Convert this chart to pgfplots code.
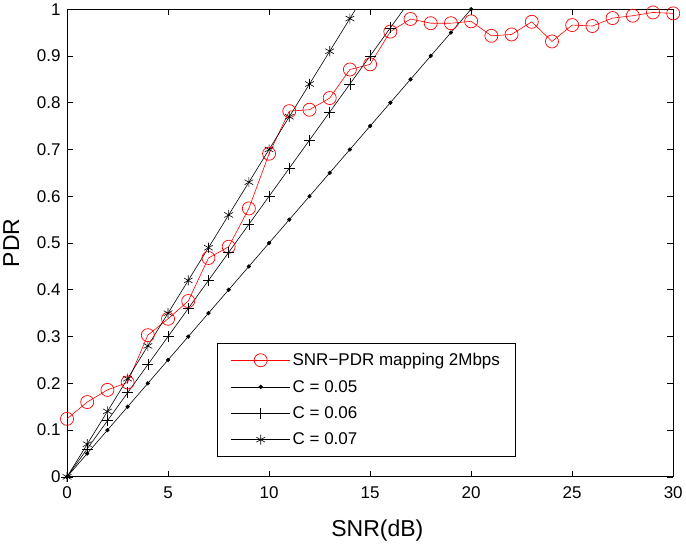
\documentclass[border=0pt]{standalone}
\usepackage{fontspec}
\setmainfont{Liberation Sans}
\usepackage{pgfplots}
\pgfplotsset{compat=1.18}

\begin{document}
\begin{tikzpicture}
\begin{axis}[
    scale only axis,
    width=604bp, height=466bp,
    xmin=0, xmax=30, ymin=0, ymax=1,
    xtick={0,5,...,30},
    ytick={0,0.1,...,1},
    tick align=inside,
    major tick length=6bp,
    tick style={black, line width=0.6bp},
    axis line style={line width=0.8bp},
    /pgf/number format/assume math mode=true,
    ticklabel style={font=\fontsize{17}{20}\selectfont},
    xticklabel style={yshift=-6bp},
    yticklabel style={xshift=-3bp},
    xlabel={SNR(dB)}, ylabel={PDR},
    label style={font=\fontsize{23}{26}\selectfont},
    xlabel style={at={(axis description cs:0.512,-0.114)}, anchor=center},
    ylabel style={at={(axis description cs:-0.092,0.5)}, anchor=center},
    legend cell align=left,
    legend style={at={(0.248,0.043)}, anchor=south west,
        font=\fontsize{17}{20}\selectfont, draw=black, line width=0.8bp,
        inner xsep=13bp, inner ysep=8bp, row sep=9bp},
    legend image code/.code={%
        \draw[#1, mark=none] (0bp,0bp) -- (59bp,0bp);
        \draw[#1, only marks] plot coordinates {(29.5bp,0bp)};},
    clip=true,
]
\addplot[red, line width=0.6bp, mark=o, mark size=6.5bp,
    mark options={line width=0.7bp}] coordinates {
 (0,0.124) (1,0.160) (2,0.186) (3,0.202) (4,0.303) (5,0.338) (6,0.376)
 (7,0.468) (8,0.492) (9,0.574) (10,0.691) (11,0.782) (12,0.785) (13,0.810)
 (14,0.871) (15,0.882) (16,0.952) (17,0.979) (18,0.970) (19,0.970)
 (20,0.974) (21,0.943) (22,0.946) (23,0.973) (24,0.931) (25,0.966)
 (26,0.964) (27,0.981) (28,0.986) (29,0.993) (30,0.991)};
\addlegendentry{SNR\textminus PDR mapping 2Mbps}

\addplot[black, line width=0.6bp, mark=*, mark size=1.8bp,
    mark indices={1,...,21}] coordinates {
 (0,0) (1,0.05) (2,0.10) (3,0.15) (4,0.20) (5,0.25) (6,0.30) (7,0.35)
 (8,0.40) (9,0.45) (10,0.50) (11,0.55) (12,0.60) (13,0.65) (14,0.70)
 (15,0.75) (16,0.80) (17,0.85) (18,0.90) (19,0.95) (20,1.00) (30,1.00)};
\addlegendentry{C = 0.05}

\addplot[black, line width=0.6bp, mark=+, mark size=5.5bp,
    mark options={line width=0.6bp}, mark indices={1,...,17}] coordinates {
 (0,0) (1,0.06) (2,0.12) (3,0.18) (4,0.24) (5,0.30) (6,0.36) (7,0.42)
 (8,0.48) (9,0.54) (10,0.60) (11,0.66) (12,0.72) (13,0.78) (14,0.84)
 (15,0.90) (16,0.96) (16.667,1.00) (30,1.00)};
\addlegendentry{C = 0.06}

\addplot[black, line width=0.6bp, mark=asterisk, mark size=5bp,
    mark options={line width=0.6bp}, mark indices={1,...,15}] coordinates {
 (0,0) (1,0.07) (2,0.14) (3,0.21) (4,0.28) (5,0.35) (6,0.42) (7,0.49)
 (8,0.56) (9,0.63) (10,0.70) (11,0.77) (12,0.84) (13,0.91) (14,0.98)
 (14.286,1.00) (30,1.00)};
\addlegendentry{C = 0.07}
\end{axis}
\end{tikzpicture}
\end{document}
